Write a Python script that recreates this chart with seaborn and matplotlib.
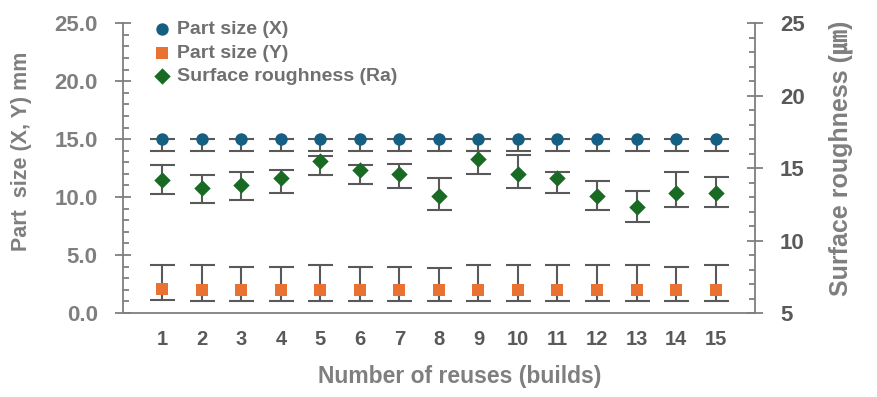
import numpy as np
import pandas as pd
import matplotlib
matplotlib.use('Agg')
import matplotlib.pyplot as plt
from matplotlib.ticker import MultipleLocator, FormatStrFormatter
import seaborn as sns

# values
builds = list(range(1, 16))
size_x = [15.0] * 15
size_x_lo = [1.0] * 15
size_x_hi = [0.0] * 15
size_y = [2.1, 2.0, 2.0, 2.0, 2.0, 2.0, 2.0, 2.0, 2.0, 2.0, 2.0, 2.0, 2.0, 2.0, 2.0]
size_y_lo = [1.0] * 15
size_y_hi = [2.0, 2.1, 2.0, 2.0, 2.1, 2.0, 2.0, 1.9, 2.1, 2.1, 2.1, 2.1, 2.1, 2.0, 2.1]
rough = [14.2, 13.6, 13.8, 14.3, 15.5, 14.9, 14.6, 13.1, 15.6, 14.6, 14.3, 13.1, 12.3, 13.3, 13.3]
rough_lo = [1.0] * 15
rough_hi = [1.0, 0.9, 0.9, 0.6, 0.3, 0.3, 0.7, 1.2, 0.6, 1.3, 0.4, 1.0, 1.1, 1.4, 1.1]

c_x = '#156082'
c_y = '#E97132'
c_r = '#196B24'
c_err = '#595959'
c_txt = '#7F7F7F'
c_leg = '#707070'

sns.set_style('white')
plt.rcParams['font.family'] = ['Liberation Sans', 'Noto Sans CJK JP', 'DejaVu Sans']

fig = plt.figure(figsize=(8.77, 3.97), dpi=100)
ax = fig.add_axes([0.140, 0.2116, 0.721, 0.730])
ax2 = ax.twinx()

df = pd.DataFrame({'build': builds, 'x': size_x, 'y': size_y, 'ra': rough})

ax.errorbar(builds, size_x, yerr=[size_x_lo, size_x_hi], fmt='none', ecolor=c_err,
            elinewidth=1.5, capsize=9, capthick=1.5, zorder=2)
ax.errorbar(builds, size_y, yerr=[size_y_lo, size_y_hi], fmt='none', ecolor=c_err,
            elinewidth=1.5, capsize=9, capthick=1.5, zorder=2)
sns.scatterplot(data=df, x='build', y='x', ax=ax, color=c_x, marker='o', s=80,
                edgecolor=c_x, linewidth=0, zorder=3, label='Part size (X)')
sns.scatterplot(data=df, x='build', y='y', ax=ax, color=c_y, marker='s', s=65,
                edgecolor=c_y, linewidth=0, zorder=3, label='Part size (Y)')

ax2.errorbar(builds, rough, yerr=[rough_lo, rough_hi], fmt='none', ecolor=c_err,
             elinewidth=1.5, capsize=9, capthick=1.5, zorder=2)
sns.scatterplot(data=df, x='build', y='ra', ax=ax2, color=c_r, marker='D', s=70,
                edgecolor=c_r, linewidth=0, zorder=3, label='Surface roughness (Ra)')

ax.set_xlim(0, 16)
ax.set_ylim(0, 25)
ax2.set_ylim(5, 25)
ax.set_xticks(builds)
ax.yaxis.set_major_locator(MultipleLocator(5))
ax.yaxis.set_minor_locator(MultipleLocator(1))
ax.yaxis.set_major_formatter(FormatStrFormatter('%.1f'))
ax2.yaxis.set_major_locator(MultipleLocator(5))
ax2.yaxis.set_minor_locator(MultipleLocator(1))

for a in (ax, ax2):
    for s in a.spines.values():
        s.set_color(c_txt)
        s.set_linewidth(1.3)
    a.spines['top'].set_visible(False)
ax.spines['right'].set_visible(False)
ax2.spines['left'].set_visible(False)
ax2.spines['bottom'].set_visible(False)

ax.tick_params(axis='y', which='major', direction='inout', length=12, width=1.3,
               color=c_txt, labelsize=16, labelcolor=c_txt, pad=12)
ax.tick_params(axis='y', which='minor', direction='in', length=4, width=1.3, color=c_txt)
ax.tick_params(axis='x', length=0, labelsize=14.5, labelcolor=c_err, pad=12)
ax2.tick_params(axis='y', which='major', direction='inout', length=12, width=1.3,
                color=c_txt, labelsize=16, labelcolor=c_err, pad=12)
ax2.tick_params(axis='y', which='minor', direction='in', length=4, width=1.3, color=c_txt)
for lab in ax.get_yticklabels() + ax.get_xticklabels() + ax2.get_yticklabels():
    lab.set_fontweight('bold')

ax.set_xlabel('Number of reuses (builds)', fontsize=16.5, fontweight='bold', color=c_txt)
ax.xaxis.set_label_coords(0.533, -0.178)
ax.set_ylabel('Part  size (X, Y) mm', fontsize=15.5, fontweight='bold', color=c_txt)
ax.yaxis.set_label_coords(-0.143, 0.559)
ax2.set_ylabel('Surface roughness (㎛)', fontsize=18, fontweight='bold', color=c_txt)
ax2.yaxis.set_label_coords(1.116, 0.534)

h1, l1 = ax.get_legend_handles_labels()
h2, l2 = ax2.get_legend_handles_labels()
if ax2.get_legend():
    ax2.get_legend().remove()
ax.legend(h1 + h2, l1 + l2, loc='upper left', bbox_to_anchor=(0.035, 1.035), frameon=False,
          prop={'weight': 'bold', 'size': 14}, labelcolor=c_leg, handletextpad=0.25,
          labelspacing=0.3, borderaxespad=0, handlelength=1.0)

fig.savefig('out.png', dpi=100)
